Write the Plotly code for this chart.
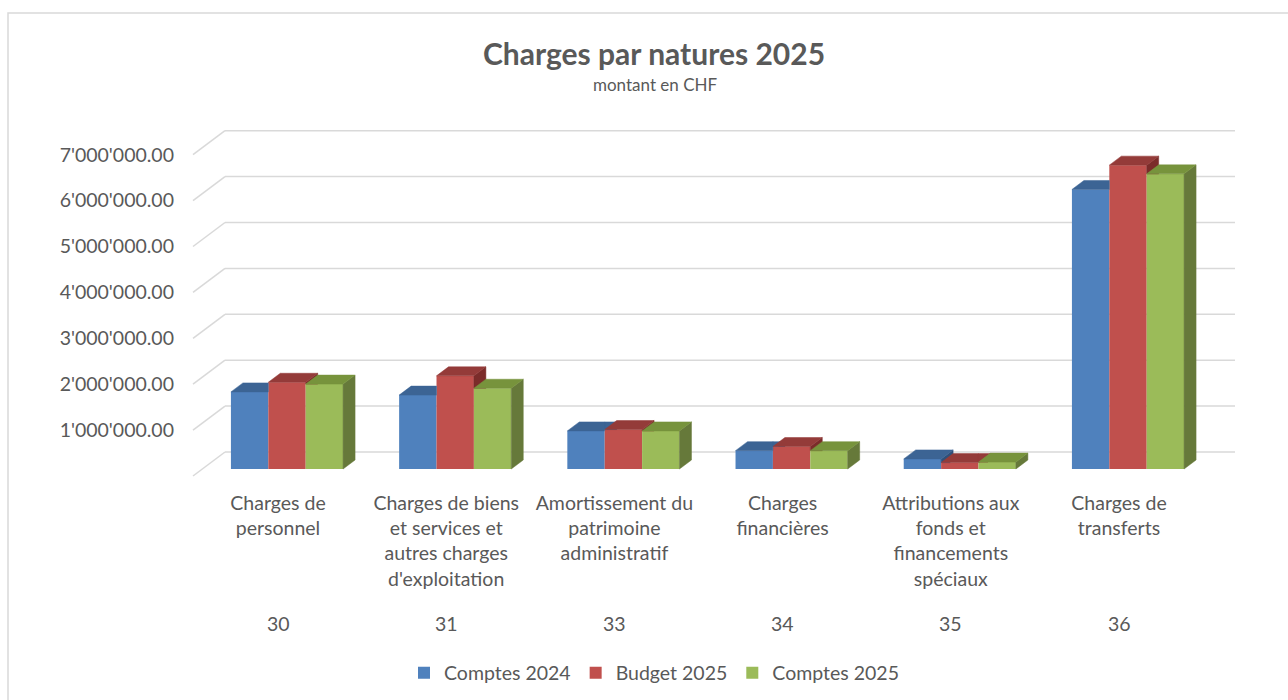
import plotly.graph_objects as go
import numpy as np

# ---------------- data ----------------
categories = ["Charges de<br>personnel",
              "Charges de biens<br>et services et<br>autres charges<br>d'exploitation",
              "Amortissement du<br>patrimoine<br>administratif",
              "Charges<br>financières",
              "Attributions aux<br>fonds et<br>financements<br>spéciaux",
              "Charges de<br>transferts"]
codes = ["30", "31", "33", "34", "35", "36"]
series_names = ["Comptes 2024", "Budget 2025", "Comptes 2025"]
comptes_2024 = [1680000, 1610000, 830000, 400000, 220000, 6090000]
budget_2025 = [1890000, 2030000, 860000, 490000, 140000, 6620000]
comptes_2025 = [1850000, 1760000, 830000, 400000, 150000, 6430000]
ytick_vals = [1000000, 2000000, 3000000, 4000000, 5000000, 6000000, 7000000]
ytick_text = ["1'000'000.00", "2'000'000.00", "3'000'000.00", "4'000'000.00",
              "5'000'000.00", "6'000'000.00", "7'000'000.00"]
grid_vals = [0, 1000000, 2000000, 3000000, 4000000, 5000000, 6000000, 7000000]

# ---------------- styling / geometry ----------------
W, H = 1288, 700
L, R, T, B = 185, 1250, 115, 485          # plot area in pixels
X0_PX, PX_PER_CAT = 287.0, 168.2          # pixel of category 0 centre, pixels per category
Y0_PX, PX_PER_UNIT = 469.0, 45.9e-6       # pixel of value 0 (bar front), pixels per CHF
xr = [(L - X0_PX) / PX_PER_CAT, (R - X0_PX) / PX_PER_CAT]
yr = [(Y0_PX - B) / PX_PER_UNIT, (Y0_PX - T) / PX_PER_UNIT]

bar_dx = 12 / PX_PER_CAT                  # bar depth offsets
bar_dy = 9 / PX_PER_UNIT
back_dy = 17 / PX_PER_UNIT                # back wall offset from bar plane
wall_x0, wall_x1 = (225 - X0_PX) / PX_PER_CAT, (1235 - X0_PX) / PX_PER_CAT
front_x = (193 - X0_PX) / PX_PER_CAT
front_dy = -7 / PX_PER_UNIT               # front-left end offset
label_shift = -9 / PX_PER_CAT

front_cols = ["#4F81BD", "#C0504D", "#9BBB59"]
top_cols = ["#3C6494", "#943B39", "#77933C"]
side_cols = ["#2F507A", "#7B2C2A", "#66793A"]
grid_col = "#D9D9D9"
text_col = "#595959"
FONT = "Lato"
FS = 19.5

bargap = 1 / 3
n_series = 3
bw = (1 - bargap) / n_series

def px_x(p):
    return (p - L) / (R - L)

def px_y(p):
    return (B - p) / (B - T)

def clip(poly, inside, intersect):
    out = []
    if not poly:
        return out
    prev = poly[-1]
    for cur in poly:
        if inside(cur):
            if not inside(prev):
                out.append(intersect(prev, cur))
            out.append(cur)
        elif inside(prev):
            out.append(intersect(prev, cur))
        prev = cur
    return out

def clip_y_ge(poly, yv):
    def inter(a, b):
        t = (yv - a[1]) / (b[1] - a[1])
        return (a[0] + t * (b[0] - a[0]), yv)
    return clip(poly, lambda p: p[1] >= yv - 1e-9, inter)

def clip_x(poly, xv, ge):
    def inter(a, b):
        t = (xv - a[0]) / (b[0] - a[0])
        return (xv, a[1] + t * (b[1] - a[1]))
    if ge:
        return clip(poly, lambda p: p[0] >= xv - 1e-12, inter)
    return clip(poly, lambda p: p[0] <= xv + 1e-12, inter)

fig = go.Figure()
idx = np.arange(len(categories))
all_series = [comptes_2024, budget_2025, comptes_2025]

for k, vals in enumerate(all_series):
    fig.add_trace(go.Bar(x=idx, y=vals, name=series_names[k],
                         marker=dict(color=front_cols[k], line=dict(width=0)),
                         hoverinfo="skip"))

# pseudo 3D faces
for k, vals in enumerate(all_series):
    sx, sy, tx, ty = [], [], [], []
    for i, v in enumerate(vals):
        x0 = i - (1 - bargap) / 2 + k * bw
        x1 = x0 + bw
        vn = all_series[k + 1][i] if k + 1 < n_series else None
        side = [(x1, 0), (x1, v), (x1 + bar_dx, v + bar_dy), (x1 + bar_dx, bar_dy)]
        top = [(x0, v), (x1, v), (x1 + bar_dx, v + bar_dy), (x0 + bar_dx, v + bar_dy)]
        if vn is not None:
            side = clip_y_ge(side, vn)
            if vn > v:
                left = clip_x(top, x1, False)
                right = clip_y_ge(clip_x(top, x1, True), vn)
                tops = [left, right]
            else:
                tops = [top]
        else:
            tops = [top]
        if len(side) >= 3:
            sx += [p[0] for p in side] + [side[0][0], None]
            sy += [p[1] for p in side] + [side[0][1], None]
        for tp in tops:
            if len(tp) >= 3:
                tx += [p[0] for p in tp] + [tp[0][0], None]
                ty += [p[1] for p in tp] + [tp[0][1], None]
    fig.add_trace(go.Scatter(x=sx, y=sy, mode="lines", fill="toself",
                             fillcolor=side_cols[k], line=dict(color=side_cols[k], width=0.5),
                             showlegend=False, hoverinfo="skip"))
    fig.add_trace(go.Scatter(x=tx, y=ty, mode="lines", fill="toself",
                             fillcolor=top_cols[k], line=dict(color=top_cols[k], width=0.5),
                             showlegend=False, hoverinfo="skip"))

# invisible trace on yaxis2 for tick labels
fig.add_trace(go.Scatter(x=[None], y=[None], yaxis="y2", showlegend=False, hoverinfo="skip"))

shapes = []
for g in grid_vals:
    shapes.append(dict(type="line", xref="x", yref="y", layer="below",
                       x0=wall_x0, x1=wall_x1, y0=g + back_dy, y1=g + back_dy,
                       line=dict(color=grid_col, width=1.5)))
    shapes.append(dict(type="line", xref="x", yref="y", layer="below",
                       x0=front_x, x1=wall_x0, y0=g + front_dy, y1=g + back_dy,
                       line=dict(color=grid_col, width=1.5)))
# chart border
shapes.append(dict(type="rect", xref="paper", yref="paper",
                   x0=px_x(8), x1=px_x(W + 20), y0=px_y(H + 20), y1=px_y(13),
                   line=dict(color=grid_col, width=1.5), fillcolor="rgba(0,0,0,0)", layer="below"))

annotations = []
for i, c in enumerate(codes):
    annotations.append(dict(x=i + label_shift, xref="x", y=px_y(623), yref="paper",
                            text=c, showarrow=False, xanchor="center", yanchor="middle",
                            font=dict(family=FONT, size=FS, color=text_col)))
annotations.append(dict(x=px_x(655), xref="paper", y=px_y(85), yref="paper",
                        text="montant en CHF", showarrow=False, xanchor="center", yanchor="middle",
                        font=dict(family=FONT, size=17, color=text_col)))

fig.update_layout(
    width=W, height=H,
    margin=dict(l=L, r=W - R, t=T, b=H - B, pad=0, autoexpand=False),
    paper_bgcolor="white", plot_bgcolor="white",
    barmode="group", bargap=bargap, bargroupgap=0,
    title=dict(text="<b>Charges par natures 2025</b>", x=654 / W, xref="container",
               y=1 - 54 / H, yref="container", xanchor="center", yanchor="middle",
               font=dict(family=FONT, size=30, color=text_col)),
    xaxis=dict(range=xr, tickvals=idx + label_shift, ticktext=categories,
               showgrid=False, zeroline=False, showline=False, ticks="",
               ticklabelstandoff=4, automargin=False,
               tickfont=dict(family=FONT, size=FS, color=text_col), fixedrange=True),
    yaxis=dict(range=yr, showgrid=False, zeroline=False, showline=False,
               showticklabels=False, ticks="", fixedrange=True, automargin=False),
    yaxis2=dict(range=[yr[0] - front_dy, yr[1] - front_dy], overlaying="y", side="left",
                tickvals=ytick_vals, ticktext=ytick_text, showgrid=False, zeroline=False,
                showline=False, ticks="", ticklabelstandoff=10, automargin=False,
                tickfont=dict(family=FONT, size=FS, color=text_col),
                fixedrange=True),
    legend=dict(orientation="h", x=px_x(654), y=px_y(673), xanchor="center", yanchor="middle",
                font=dict(family=FONT, size=FS, color=text_col), itemwidth=30,
                traceorder="normal"),
    shapes=shapes, annotations=annotations,
    showlegend=True,
)

fig.write_html("out.html")
